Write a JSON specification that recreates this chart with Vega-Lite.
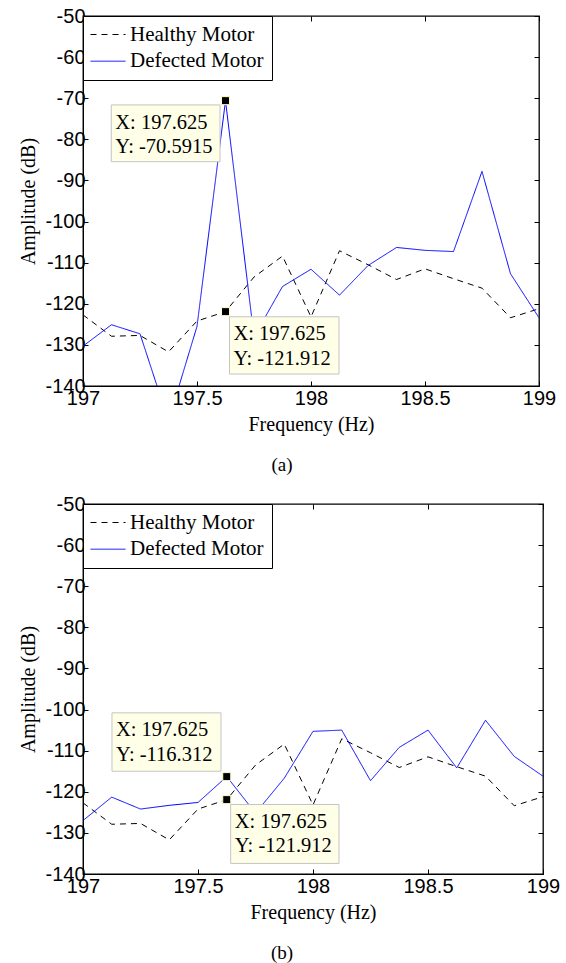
{
  "$schema": "https://vega.github.io/schema/vega-lite/v6.json",
  "background": "white",
  "padding": {"left": 18, "top": 5, "right": 4, "bottom": 0},
  "spacing": 17,
  "config": {
    "view": {"stroke": "black", "strokeWidth": 1.3},
    "axis": {
      "grid": false,
      "domainColor": "black",
      "tickColor": "black",
      "labelColor": "black",
      "labelFont": "Liberation Sans",
      "labelFontSize": 20,
      "titleFont": "Liberation Serif",
      "titleFontSize": 20,
      "titleFontWeight": "normal",
      "titleColor": "black",
      "tickSize": -5,
      "labelFlush": false,
      "labelOverlap": false,
      "labelBound": false
    },
    "legend": {
      "labelFont": "Liberation Serif",
      "labelFontSize": 21,
      "labelColor": "black",
      "symbolType": "M-1.1,0H2.4",
      "symbolSize": 400,
      "symbolStrokeWidth": 1,
      "labelOffset": 18,
      "rowPadding": 4.7,
      "padding": 8,
      "strokeColor": "black",
      "fillColor": "white",
      "orient": "none",
      "legendX": 0,
      "legendY": 0
    },
    "title": {"font": "Liberation Serif", "fontSize": 19, "fontWeight": "normal", "color": "black"}
  },
  "datasets": {
    "a": [
      {"freq": 197.0, "amp": -122.7, "series": "Healthy Motor"},
      {"freq": 197.125, "amp": -127.9, "series": "Healthy Motor"},
      {"freq": 197.25, "amp": -127.7, "series": "Healthy Motor"},
      {"freq": 197.375, "amp": -131.7, "series": "Healthy Motor"},
      {"freq": 197.5, "amp": -124.2, "series": "Healthy Motor"},
      {"freq": 197.625, "amp": -121.912, "series": "Healthy Motor"},
      {"freq": 197.75, "amp": -113.5, "series": "Healthy Motor"},
      {"freq": 197.875, "amp": -108.4, "series": "Healthy Motor"},
      {"freq": 198.0, "amp": -123.2, "series": "Healthy Motor"},
      {"freq": 198.125, "amp": -107.1, "series": "Healthy Motor"},
      {"freq": 198.25, "amp": -110.5, "series": "Healthy Motor"},
      {"freq": 198.375, "amp": -114.1, "series": "Healthy Motor"},
      {"freq": 198.5, "amp": -111.5, "series": "Healthy Motor"},
      {"freq": 198.625, "amp": -113.9, "series": "Healthy Motor"},
      {"freq": 198.75, "amp": -116.2, "series": "Healthy Motor"},
      {"freq": 198.875, "amp": -123.4, "series": "Healthy Motor"},
      {"freq": 199.0, "amp": -121.2, "series": "Healthy Motor"},
      {"freq": 197.0, "amp": -130.3, "series": "Defected Motor"},
      {"freq": 197.125, "amp": -125.1, "series": "Defected Motor"},
      {"freq": 197.25, "amp": -127.3, "series": "Defected Motor"},
      {"freq": 197.375, "amp": -148.5, "series": "Defected Motor"},
      {"freq": 197.5, "amp": -125.5, "series": "Defected Motor"},
      {"freq": 197.625, "amp": -70.5915, "series": "Defected Motor"},
      {"freq": 197.75, "amp": -128.0, "series": "Defected Motor"},
      {"freq": 197.875, "amp": -115.8, "series": "Defected Motor"},
      {"freq": 198.0, "amp": -111.6, "series": "Defected Motor"},
      {"freq": 198.125, "amp": -117.9, "series": "Defected Motor"},
      {"freq": 198.25, "amp": -110.7, "series": "Defected Motor"},
      {"freq": 198.375, "amp": -106.3, "series": "Defected Motor"},
      {"freq": 198.5, "amp": -107.0, "series": "Defected Motor"},
      {"freq": 198.625, "amp": -107.3, "series": "Defected Motor"},
      {"freq": 198.75, "amp": -87.8, "series": "Defected Motor"},
      {"freq": 198.875, "amp": -112.7, "series": "Defected Motor"},
      {"freq": 199.0, "amp": -123.4, "series": "Defected Motor"}
    ],
    "b": [
      {"freq": 197.0, "amp": -122.7, "series": "Healthy Motor"},
      {"freq": 197.125, "amp": -127.9, "series": "Healthy Motor"},
      {"freq": 197.25, "amp": -127.7, "series": "Healthy Motor"},
      {"freq": 197.375, "amp": -131.7, "series": "Healthy Motor"},
      {"freq": 197.5, "amp": -124.2, "series": "Healthy Motor"},
      {"freq": 197.625, "amp": -121.912, "series": "Healthy Motor"},
      {"freq": 197.75, "amp": -113.5, "series": "Healthy Motor"},
      {"freq": 197.875, "amp": -108.4, "series": "Healthy Motor"},
      {"freq": 198.0, "amp": -123.2, "series": "Healthy Motor"},
      {"freq": 198.125, "amp": -107.1, "series": "Healthy Motor"},
      {"freq": 198.25, "amp": -110.5, "series": "Healthy Motor"},
      {"freq": 198.375, "amp": -114.1, "series": "Healthy Motor"},
      {"freq": 198.5, "amp": -111.5, "series": "Healthy Motor"},
      {"freq": 198.625, "amp": -113.9, "series": "Healthy Motor"},
      {"freq": 198.75, "amp": -116.2, "series": "Healthy Motor"},
      {"freq": 198.875, "amp": -123.4, "series": "Healthy Motor"},
      {"freq": 199.0, "amp": -121.2, "series": "Healthy Motor"},
      {"freq": 197.0, "amp": -127.0, "series": "Defected Motor"},
      {"freq": 197.125, "amp": -121.3, "series": "Defected Motor"},
      {"freq": 197.25, "amp": -124.2, "series": "Defected Motor"},
      {"freq": 197.375, "amp": -123.3, "series": "Defected Motor"},
      {"freq": 197.5, "amp": -122.6, "series": "Defected Motor"},
      {"freq": 197.625, "amp": -116.312, "series": "Defected Motor"},
      {"freq": 197.75, "amp": -125.2, "series": "Defected Motor"},
      {"freq": 197.875, "amp": -116.7, "series": "Defected Motor"},
      {"freq": 198.0, "amp": -105.3, "series": "Defected Motor"},
      {"freq": 198.125, "amp": -105.0, "series": "Defected Motor"},
      {"freq": 198.25, "amp": -117.3, "series": "Defected Motor"},
      {"freq": 198.375, "amp": -109.2, "series": "Defected Motor"},
      {"freq": 198.5, "amp": -105.0, "series": "Defected Motor"},
      {"freq": 198.625, "amp": -114.2, "series": "Defected Motor"},
      {"freq": 198.75, "amp": -102.6, "series": "Defected Motor"},
      {"freq": 198.875, "amp": -111.4, "series": "Defected Motor"},
      {"freq": 199.0, "amp": -116.2, "series": "Defected Motor"}
    ],
    "tipsA": [
      {"fx": 197.625, "fy": -70.5915, "x1": 197.124, "x2": 197.601, "y1": -71.63, "y2": -85.44, "label": "X: 197.625\nY: -70.5915"},
      {"fx": 197.625, "fy": -121.912, "x1": 197.6425, "x2": 198.1228, "y1": -123.16, "y2": -137.09, "label": "X: 197.625\nY: -121.912"}
    ],
    "tipsB": [
      {"fx": 197.625, "fy": -116.312, "x1": 197.126, "x2": 197.6, "y1": -100.8, "y2": -115.0, "label": "X: 197.625\nY: -116.312"},
      {"fx": 197.625, "fy": -121.912, "x1": 197.642, "x2": 198.113, "y1": -123.09, "y2": -137.43, "label": "X: 197.625\nY: -121.912"}
    ]
  },
  "resolve": {"scale": {"color": "independent", "strokeDash": "independent"}},
  "vconcat": [
    {
      "width": 456,
      "height": 370,
      "title": {"text": "(a)", "orient": "bottom", "anchor": "middle", "dx": -29, "offset": 22},
      "resolve": {"axis": {"x": "independent", "y": "independent"}},
      "layer": [
        {
          "data": {"name": "a"},
          "mark": {"type": "line", "clip": true, "strokeWidth": 1},
          "encoding": {
            "x": {"field": "freq", "type": "quantitative", "scale": {"domain": [197, 199], "nice": false, "zero": false},
              "axis": {"orient": "bottom", "values": [197, 197.5, 198, 198.5, 199], "title": "Frequency (Hz)", "labelPadding": 7, "titlePadding": 6, "labelExpr": "datum.value + ''"}},
            "y": {"field": "amp", "type": "quantitative", "scale": {"domain": [-140, -50], "nice": false, "zero": false},
              "axis": {"orient": "left", "values": [-140, -130, -120, -110, -100, -90, -80, -70, -60, -50], "title": "Amplitude (dB)", "labelPadding": 3, "titlePadding": 6, "labelExpr": "datum.value + ''"}},
            "color": {"field": "series", "type": "nominal", "scale": {"domain": ["Healthy Motor", "Defected Motor"], "range": ["black", "#0000FF"]}, "legend": {"title": null}},
            "strokeDash": {"field": "series", "type": "nominal", "scale": {"domain": ["Healthy Motor", "Defected Motor"], "range": [[6, 5], [1, 0]]}, "legend": {"title": null}}
          }
        },
        {
          "data": {"name": "tipsA"},
          "mark": {"type": "rect", "fill": "#FFFFE8", "stroke": "#C4C4C4", "strokeWidth": 1},
          "encoding": {
            "x": {"field": "x1", "type": "quantitative", "axis": {"orient": "top", "values": [197, 197.5, 198, 198.5, 199], "labels": false, "title": null, "domain": false}},
            "x2": {"field": "x2"},
            "y": {"field": "y1", "type": "quantitative", "axis": {"orient": "right", "values": [-140, -130, -120, -110, -100, -90, -80, -70, -60, -50], "labels": false, "title": null, "domain": false}},
            "y2": {"field": "y2"}
          }
        },
        {
          "data": {"name": "tipsA"},
          "mark": {"type": "text", "align": "left", "baseline": "alphabetic", "font": "Liberation Serif", "fontSize": 20.5, "lineHeight": 24.4, "dx": 4, "dy": 23.6, "lineBreak": "\n", "color": "black"},
          "encoding": {
            "x": {"field": "x1", "type": "quantitative", "axis": null},
            "y": {"field": "y1", "type": "quantitative", "axis": null},
            "text": {"field": "label"}
          }
        },
        {
          "data": {"name": "tipsA"},
          "mark": {"type": "point", "shape": "square", "filled": true, "size": 64, "color": "black", "stroke": "#FFFFC8", "strokeWidth": 1, "opacity": 1},
          "encoding": {
            "x": {"field": "fx", "type": "quantitative", "axis": null},
            "y": {"field": "fy", "type": "quantitative", "axis": null}
          }
        }
      ]
    },
    {
      "width": 460,
      "height": 370,
      "title": {"text": "(b)", "orient": "bottom", "anchor": "middle", "dx": -31, "offset": 22},
      "resolve": {"axis": {"x": "independent", "y": "independent"}},
      "layer": [
        {
          "data": {"name": "b"},
          "mark": {"type": "line", "clip": true, "strokeWidth": 1},
          "encoding": {
            "x": {"field": "freq", "type": "quantitative", "scale": {"domain": [197, 199], "nice": false, "zero": false},
              "axis": {"orient": "bottom", "values": [197, 197.5, 198, 198.5, 199], "title": "Frequency (Hz)", "labelPadding": 7, "titlePadding": 6, "labelExpr": "datum.value + ''"}},
            "y": {"field": "amp", "type": "quantitative", "scale": {"domain": [-140, -50], "nice": false, "zero": false},
              "axis": {"orient": "left", "values": [-140, -130, -120, -110, -100, -90, -80, -70, -60, -50], "title": "Amplitude (dB)", "labelPadding": 3, "titlePadding": 6, "labelExpr": "datum.value + ''"}},
            "color": {"field": "series", "type": "nominal", "scale": {"domain": ["Healthy Motor", "Defected Motor"], "range": ["black", "#0000FF"]}, "legend": {"title": null}},
            "strokeDash": {"field": "series", "type": "nominal", "scale": {"domain": ["Healthy Motor", "Defected Motor"], "range": [[6, 5], [1, 0]]}, "legend": {"title": null}}
          }
        },
        {
          "data": {"name": "tipsB"},
          "mark": {"type": "rect", "fill": "#FFFFE8", "stroke": "#C4C4C4", "strokeWidth": 1},
          "encoding": {
            "x": {"field": "x1", "type": "quantitative", "axis": {"orient": "top", "values": [197, 197.5, 198, 198.5, 199], "labels": false, "title": null, "domain": false}},
            "x2": {"field": "x2"},
            "y": {"field": "y1", "type": "quantitative", "axis": {"orient": "right", "values": [-140, -130, -120, -110, -100, -90, -80, -70, -60, -50], "labels": false, "title": null, "domain": false}},
            "y2": {"field": "y2"}
          }
        },
        {
          "data": {"name": "tipsB"},
          "mark": {"type": "text", "align": "left", "baseline": "alphabetic", "font": "Liberation Serif", "fontSize": 20.5, "lineHeight": 24.4, "dx": 4, "dy": 23.6, "lineBreak": "\n", "color": "black"},
          "encoding": {
            "x": {"field": "x1", "type": "quantitative", "axis": null},
            "y": {"field": "y1", "type": "quantitative", "axis": null},
            "text": {"field": "label"}
          }
        },
        {
          "data": {"name": "tipsB"},
          "mark": {"type": "point", "shape": "square", "filled": true, "size": 64, "color": "black", "stroke": "#FFFFC8", "strokeWidth": 1, "opacity": 1},
          "encoding": {
            "x": {"field": "fx", "type": "quantitative", "axis": null},
            "y": {"field": "fy", "type": "quantitative", "axis": null}
          }
        }
      ]
    }
  ]
}
